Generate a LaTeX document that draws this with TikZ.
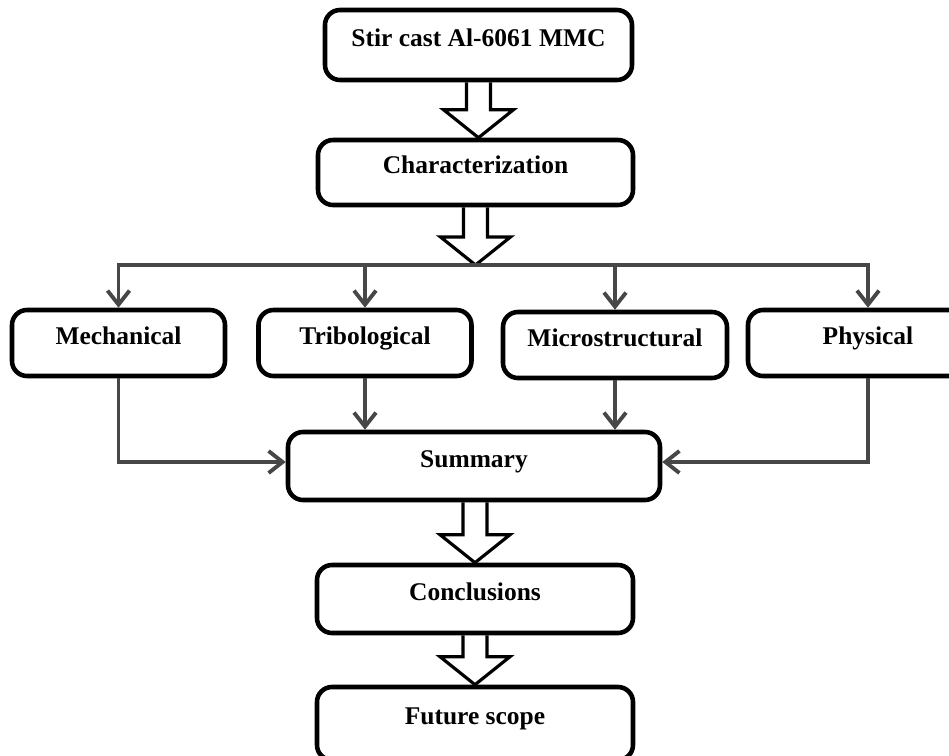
\documentclass[tikz,border=0pt]{standalone}
\usepackage{fontspec}
\setmainfont{Liberation Serif}
\usetikzlibrary{arrows.meta}

% hollow block arrow from a tail point down to a tip point
\newcommand{\hollowarrow}[2]{%
  \draw[hollow] ([xshift=-0.24cm]#1) -- ([xshift=-0.24cm,yshift=0.56cm]#2)
    -- ([xshift=-0.7cm,yshift=0.56cm]#2) -- (#2)
    -- ([xshift=0.7cm,yshift=0.56cm]#2) -- ([xshift=0.24cm,yshift=0.56cm]#2)
    -- ([xshift=0.24cm]#1);
}

\begin{document}
\begin{tikzpicture}[
    box/.style={draw, line width=2.6pt, rounded corners=0.3cm, inner sep=2pt,
      font=\bfseries\fontsize{14.5}{16}\selectfont, text height=0.31cm, text depth=0.27cm},
    conn/.style={line width=2.2pt, draw=black!72, -{Straight Barb[length=2.8mm,width=4.4mm]}},
    hollow/.style={line width=1.8pt, line join=miter}
  ]
        \useasboundingbox (0,0) rectangle (18.98,-15.12);
        \clip (0,0) rectangle (18.98,-15.12);

        \node [box, minimum width=6.14cm, minimum height=1.4cm] (top) at (9.57,-0.9) {Stir cast Al-6061 MMC};
        \node [box, minimum width=6.3cm, minimum height=1.3cm] (char) at (9.51,-3.45) {Characterization};

        \node [box, minimum width=4.26cm, minimum height=1.32cm] (mech) at (2.37,-6.86) {Mechanical};
        \node [box, minimum width=4.26cm, minimum height=1.32cm] (trib) at (7.3,-6.86) {Tribological};
        \node [box, minimum width=4.48cm, minimum height=1.32cm] (micro) at (12.3,-6.9) {Microstructural};
        \node [box, minimum width=4.8cm, minimum height=1.32cm] (phys) at (17.36,-6.86) {Physical};

        \node [box, minimum width=7.44cm, minimum height=1.36cm] (summ) at (9.48,-9.32) {Summary};
        \node [box, minimum width=6.32cm, minimum height=1.36cm] (concl) at (9.5,-11.98) {Conclusions};
        \node [box, minimum width=6.32cm, minimum height=1.46cm] (fut) at (9.5,-14.47) {Future scope};

        % block arrows
        \coordinate (tip1) at (top.south |- char.north);
        \hollowarrow{top.south}{tip1}
        \coordinate (split) at (9.51,-5.3);
        \hollowarrow{char.south}{split}
        \coordinate (tip3) at (concl.north);
        \hollowarrow{summ.south -| concl.north}{tip3}
        \coordinate (tip4) at (fut.north);
        \hollowarrow{concl.south}{tip4}

        % branches
        \draw [conn] (split) -| (mech.north);
        \draw [conn] (split) -| (phys.north);
        \draw [conn] (trib.north |- split) -- (trib.north);
        \draw [conn] (micro.north |- split) -- (micro.north);

        % into summary
        \draw [conn] (mech.south) |- ([yshift=0.08cm]summ.west);
        \draw [conn] (trib.south) -- (trib.south |- summ.north);
        \draw [conn] (micro.south) -- (micro.south |- summ.north);
        \draw [conn] (phys.south) |- ([yshift=0.08cm]summ.east);
    \end{tikzpicture}
\end{document}
